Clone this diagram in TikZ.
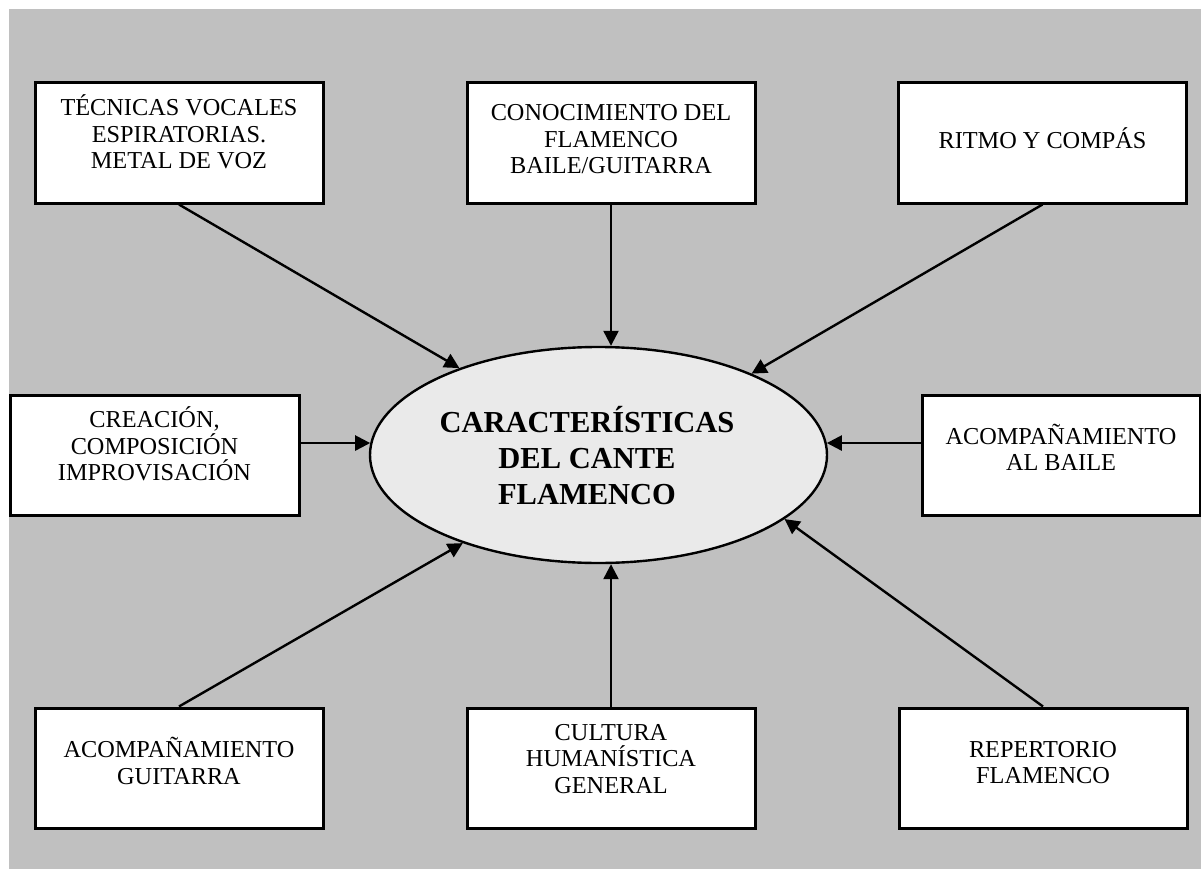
\documentclass[tikz,border=0pt]{standalone}
\usepackage{fontspec}
\setmainfont{Liberation Serif}
\usetikzlibrary{arrows.meta,shapes.geometric,calc}
\definecolor{bggray}{HTML}{C0C0C0}
\definecolor{ellgray}{HTML}{EAEAEA}
\begin{document}
\begin{tikzpicture}[x=1pt,y=-1pt,
  box/.style={draw=black, line width=3pt, fill=white, minimum width=288pt, minimum height=120pt, inner sep=0pt},
  lbl/.style={align=center, anchor=north, inner sep=0pt, font=\fontsize{24.3}{26.5}\selectfont},
  ctitle/.style={align=center, anchor=north, inner sep=0pt, font=\fontsize{30.5}{36}\selectfont\bfseries, execute at begin node={\rule{0pt}{28.5pt}}},
  centre/.style={ellipse, draw=black, line width=2.4pt, fill=ellgray, minimum width=457pt, minimum height=216pt, inner sep=0pt},
  arr/.style={line width=2.4pt, -{Triangle[length=15pt,width=15pt]}}]
\useasboundingbox (0,0) rectangle (1201,869);
\fill[bggray] (9,9) rectangle (1201,869);

% boxes
\node[box] (tl) at (179,143) {};
\node[box] (tc) at (611,143) {};
\node[box] (tr) at (1042.5,143) {};
\node[box, minimum width=289pt] (ml) at (154.5,455) {};
\node[box, minimum width=278pt] (mr) at (1061,455) {};
\node[box] (bl) at (179,768) {};
\node[box] (bc) at (611,768) {};
\node[box] (br) at (1043,768) {};

% labels
\node[lbl] (tlt) at (179,94.5) {TÉCNICAS VOCALES\\ESPIRATORIAS.\\METAL DE VOZ};
\node[lbl] (tct) at (611,104.5) {CONOCIMIENTO DEL\\FLAMENCO\\BAILE/GUITARRA};
\node[lbl] (trt) at (1042.5,127) {RITMO Y COMPÁS};
\node[lbl] (mlt) at (154.5,406.5) {CREACIÓN,\\COMPOSICIÓN\\IMPROVISACIÓN};
\node[lbl] (mrt) at (1061,423.5) {ACOMPAÑAMIENTO\\AL BAILE};
\node[lbl] (blt) at (179,737) {ACOMPAÑAMIENTO\\GUITARRA};
\node[lbl] (bct) at (611,724) {CULTURA\\HUMANÍSTICA\\GENERAL};
\node[lbl] (brt) at (1043,741) {REPERTORIO\\FLAMENCO};

% centre
\node[centre] (ell) at (598.5,455) {};
\node[ctitle] (ellt) at (587,406) {CARACTERÍSTICAS\\DEL CANTE\\FLAMENCO};

% arrows
\draw[arr] (tl.south) -- (ell.148);
\draw[arr] (tc.south) -- (tc.south |- ell.north);
\draw[arr] (tr.south) -- (ell.28);
\draw[arr] (ml.east |- ell.177) -- (ell.177);
\draw[arr] (mr.west |- ell.3) -- (ell.3);
\draw[arr] (bl.north) -- (ell.213);
\draw[arr] (bc.north) -- (bc.north |- ell.south);
\draw[arr] (br.north) -- (ell.341);
\end{tikzpicture}
\end{document}
